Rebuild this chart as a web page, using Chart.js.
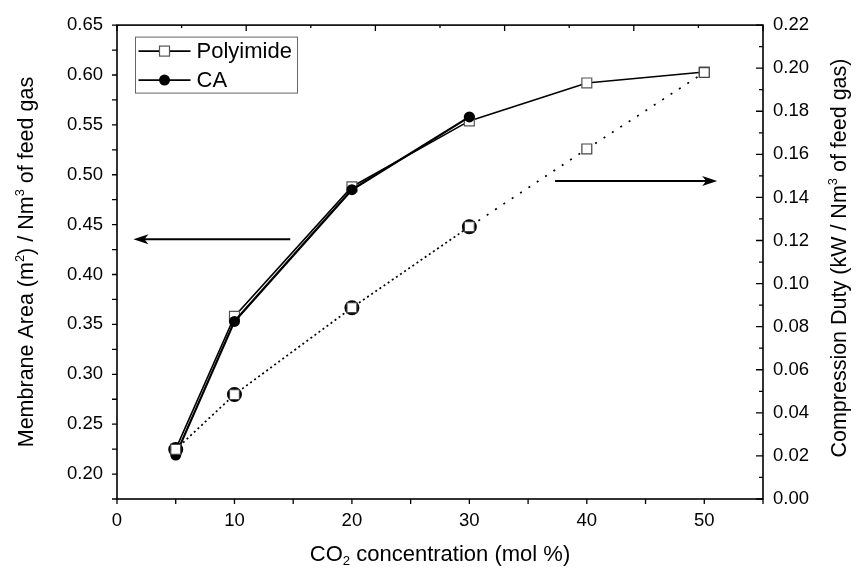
<!DOCTYPE html>
<html>
<head>
<meta charset="utf-8">
<script src="https://cdn.jsdelivr.net/npm/chart.js@4.4.1/dist/chart.umd.min.js"></script>
<style>
  html, body { margin: 0; padding: 0; background: #fff; }
  #wrap { width: 856px; height: 576px; position: relative; }
</style>
</head>
<body>
<div id="wrap"><canvas id="grafico"></canvas></div>
<script>
// CO2 concentration (mol %)
const co2 = [5, 10, 20, 30, 40, 50];
const co2CA = [5, 10, 20, 30];

// membrane area, left axis
const areaPolyimide = [0.225, 0.358, 0.488, 0.554, 0.592, 0.603];
const areaCA = [0.219, 0.353, 0.485, 0.558];

// compression duty, right axis
const dutyPolyimide = [0.023, 0.0485, 0.0888, 0.1264, 0.1625, 0.198];
const dutyCA = [0.023, 0.0485, 0.0888, 0.1264];

// ticks
const xTicks = [0, 10, 20, 30, 40, 50];
const xMinor = [5, 15, 25, 35, 45, 55];
const topTicks = [0, 5.5, 11, 16.5, 22, 27.5, 33, 38.5, 44, 49.5, 55];
const leftTicks = [0.20, 0.25, 0.30, 0.35, 0.40, 0.45, 0.50, 0.55, 0.60, 0.65];
const leftMinor = [0.175, 0.225, 0.275, 0.325, 0.375, 0.425, 0.475, 0.525, 0.575, 0.625];
const rightTicks = [0.00, 0.02, 0.04, 0.06, 0.08, 0.10, 0.12, 0.14, 0.16, 0.18, 0.20, 0.22];
const rightMinor = [0.01, 0.03, 0.05, 0.07, 0.09, 0.11, 0.13, 0.15, 0.17, 0.19, 0.21];

const FONT = '"Liberation Sans", Arial, sans-serif';
Chart.defaults.font.family = FONT;
Chart.defaults.color = '#000';

function pts(xs, ys) {
  return xs.map((x, i) => ({ x, y: ys[i] }));
}

// texto con sub/superindices
function drawRich(ctx, parts, size) {
  const w = parts.map(p => {
    ctx.font = `${p[1] ? size * 0.6 : size}px ${FONT}`;
    return ctx.measureText(p[0]).width;
  });
  let x = -w.reduce((a, b) => a + b, 0) / 2;
  ctx.textBaseline = 'alphabetic';
  ctx.textAlign = 'left';
  parts.forEach((p, i) => {
    ctx.font = `${p[1] ? size * 0.6 : size}px ${FONT}`;
    let dy = size * 0.36;
    if (p[1] === 'sup') dy -= size * 0.42;
    if (p[1] === 'sub') dy += size * 0.2;
    ctx.fillText(p[0], x, dy);
    x += w[i];
  });
}

const origin = {
  id: 'origin',
  afterDraw(chart) {
    const { ctx, chartArea: a, scales } = chart;
    const x = scales.x, y = scales.y, y2 = scales.y2;
    ctx.save();
    ctx.strokeStyle = '#000';
    ctx.fillStyle = '#000';

    // marco
    ctx.lineWidth = 1.6;
    ctx.strokeRect(a.left, a.top, a.right - a.left, a.bottom - a.top);

    ctx.lineWidth = 1.3;
    ctx.beginPath();
    xTicks.concat(xMinor).forEach(v => {
      const px = x.getPixelForValue(v);
      ctx.moveTo(px, a.bottom); ctx.lineTo(px, a.bottom + 5);
    });
    topTicks.forEach((v, i) => {
      const px = x.getPixelForValue(v);
      ctx.moveTo(px, a.top); ctx.lineTo(px, a.top + (i % 2 ? 3 : 6));
    });
    leftTicks.concat(leftMinor).forEach(v => {
      const py = y.getPixelForValue(v);
      ctx.moveTo(a.left, py); ctx.lineTo(a.left - 5, py);
    });
    rightTicks.forEach(v => {
      const py = y2.getPixelForValue(v);
      ctx.moveTo(a.right, py); ctx.lineTo(a.right - 7, py);
    });
    rightMinor.forEach(v => {
      const py = y2.getPixelForValue(v);
      ctx.moveTo(a.right, py); ctx.lineTo(a.right - 4, py);
    });
    ctx.stroke();

    // flechas
    arrow(ctx, x.getPixelForValue(14.75), y.getPixelForValue(0.4354), x.getPixelForValue(1.4));
    arrow(ctx, x.getPixelForValue(37.3), y2.getPixelForValue(0.1476), x.getPixelForValue(51.1));

    // leyenda
    const lx = a.left + 18.5, ly = a.top + 12;
    ctx.lineWidth = 1;
    ctx.strokeStyle = '#666';
    ctx.strokeRect(lx, ly, 162, 56);
    ctx.strokeStyle = '#000';
    [[ly + 14, 'Polyimide', 'rect'], [ly + 43, 'CA', 'circle']].forEach(([yy, txt, st]) => {
      ctx.lineWidth = 1.6;
      ctx.beginPath(); ctx.moveTo(lx + 3, yy); ctx.lineTo(lx + 55, yy); ctx.stroke();
      if (st === 'rect') {
        ctx.fillStyle = '#fff'; ctx.strokeStyle = '#555'; ctx.lineWidth = 1.2;
        ctx.fillRect(lx + 24, yy - 5, 10, 10); ctx.strokeRect(lx + 24, yy - 5, 10, 10);
        ctx.strokeStyle = '#000';
      } else {
        ctx.fillStyle = '#000';
        ctx.beginPath(); ctx.arc(lx + 29, yy, 5.5, 0, Math.PI * 2); ctx.fill();
      }
      ctx.fillStyle = '#000';
      ctx.font = `22px ${FONT}`;
      ctx.textBaseline = 'middle';
      ctx.textAlign = 'left';
      ctx.fillText(txt, lx + 61, yy + 1);
    });

    // titulos de ejes
    ctx.fillStyle = '#000';
    ctx.save();
    ctx.translate((a.left + a.right) / 2, 553);
    drawRich(ctx, [['CO'], ['2', 'sub'], [' concentration (mol %)']], 22);
    ctx.restore();

    ctx.save();
    ctx.translate(25, (a.top + a.bottom) / 2);
    ctx.rotate(-Math.PI / 2);
    drawRich(ctx, [['Membrane Area (m'], ['2', 'sup'], [') / Nm'], ['3', 'sup'], [' of feed gas']], 21.5);
    ctx.restore();

    ctx.save();
    ctx.translate(838, (a.top + a.bottom) / 2 - 4);
    ctx.rotate(-Math.PI / 2);
    drawRich(ctx, [['Compression Duty (kW / Nm'], ['3', 'sup'], [' of feed gas)']], 21.5);
    ctx.restore();

    ctx.restore();
  }
};

function arrow(ctx, x0, yy, x1) {
  const dir = Math.sign(x1 - x0);
  ctx.lineWidth = 2;
  ctx.beginPath(); ctx.moveTo(x0, yy); ctx.lineTo(x1 - dir * 8, yy); ctx.stroke();
  ctx.beginPath();
  ctx.moveTo(x1, yy);
  ctx.lineTo(x1 - dir * 15, yy - 5);
  ctx.lineTo(x1 - dir * 11, yy);
  ctx.lineTo(x1 - dir * 15, yy + 5);
  ctx.closePath();
  ctx.fill();
}

function setTicks(list) {
  return scale => { scale.ticks = list.map(v => ({ value: v })); };
}

new Chart(document.getElementById('grafico'), {
  type: 'line',
  data: {
    datasets: [
      {
        label: 'Polyimide duty',
        data: pts(co2, dutyPolyimide),
        yAxisID: 'y2',
        borderColor: '#000',
        borderWidth: 1.7,
        borderDash: [2, 8],
        pointStyle: 'rect',
        pointRadius: 7,
        pointBackgroundColor: '#fff',
        pointBorderColor: '#444',
        pointBorderWidth: 1.2,
        order: 0
      },
      {
        label: 'CA duty',
        data: pts(co2CA, dutyCA),
        yAxisID: 'y2',
        borderColor: '#000',
        borderWidth: 1.7,
        borderDash: [2, 8],
        borderDashOffset: 5,
        pointStyle: 'circle',
        pointRadius: 6,
        pointBackgroundColor: '#fff',
        pointBorderColor: '#000',
        pointBorderWidth: 3,
        order: 1
      },
      {
        label: 'CA',
        data: pts(co2CA, areaCA),
        yAxisID: 'y',
        borderColor: '#000',
        borderWidth: 2.2,
        pointStyle: 'circle',
        pointRadius: 5.5,
        pointBackgroundColor: '#000',
        pointBorderColor: '#000',
        pointBorderWidth: 0,
        order: 2
      },
      {
        label: 'Polyimide',
        data: pts(co2, areaPolyimide),
        yAxisID: 'y',
        borderColor: '#000',
        borderWidth: 1.6,
        pointStyle: 'rect',
        pointRadius: 7,
        pointBackgroundColor: '#fff',
        pointBorderColor: '#555',
        pointBorderWidth: 1.2,
        order: 3
      }
    ]
  },
  options: {
    responsive: true,
    maintainAspectRatio: false,
    animation: false,
    layout: { padding: { top: 18, left: 0, right: 0, bottom: 0 } },
    plugins: { legend: { display: false }, tooltip: { enabled: false } },
    scales: {
      x: {
        type: 'linear',
        min: 0, max: 55,
        afterBuildTicks: setTicks(xTicks),
        afterFit: s => { s.height = 77; },
        grid: { display: false, drawTicks: false },
        border: { display: false },
        ticks: { font: { size: 18.5 }, padding: 11, maxRotation: 0 }
      },
      y: {
        position: 'left',
        min: 0.175, max: 0.65,
        afterBuildTicks: setTicks(leftTicks),
        afterFit: s => { s.width = 117; },
        grid: { display: false, drawTicks: false },
        border: { display: false },
        ticks: { font: { size: 18.5 }, padding: 14, callback: v => v.toFixed(2) }
      },
      y2: {
        position: 'right',
        min: 0, max: 0.22,
        afterBuildTicks: setTicks(rightTicks),
        afterFit: s => { s.width = 93; },
        grid: { display: false, drawTicks: false },
        border: { display: false },
        ticks: { font: { size: 18.5 }, padding: 10, callback: v => v.toFixed(2) }
      }
    }
  },
  plugins: [origin]
});
</script>
</body>
</html>
